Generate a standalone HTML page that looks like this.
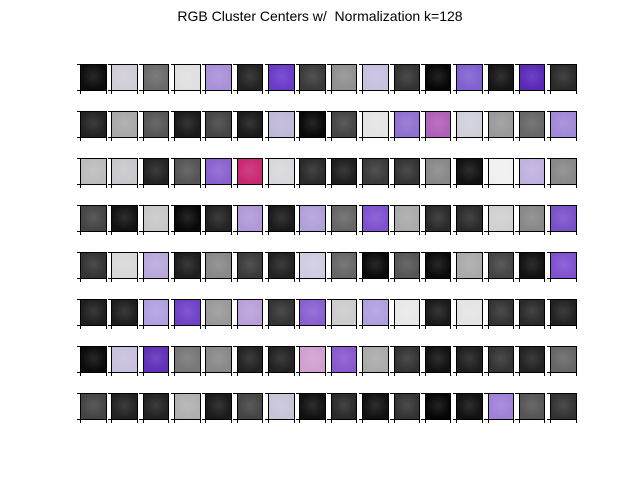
<!DOCTYPE html>
<html><head><meta charset="utf-8"><style>
body{margin:0;background:#fff;}
#c{position:relative;width:640px;height:480px;background:#fff;font-family:"Liberation Sans",sans-serif;overflow:hidden;}
#title{position:absolute;left:0;width:640px;top:8px;text-align:center;font-size:14px;color:#000;white-space:pre;}
.tile{position:absolute;box-sizing:border-box;border:1px solid #000;}
.tk{position:absolute;background:#000;}
</style></head><body>
<div id="c">
<div id="title">RGB Cluster Centers w/  Normalization k=128</div>
</div>
<script>
const rows=[
["#0c0c0c","#d0cdd8","#6a6a6a","#e0e0e0","#a890d8","#222222","#6a3ac8","#3a3a3a","#909090","#c8c0e0","#333333","#050505","#8060d0","#151515","#5a28b8","#2a2a2a"],
["#222222","#a8a8a8","#555555","#1a1a1a","#444444","#1a1a1a","#c0b8d8","#080808","#444444","#e4e4e4","#9070d0","#b060b8","#d0d0dc","#999999","#666666","#a088d8"],
["#bcbcbc","#c8c8cc","#222222","#555555","#8a60d0","#c82870","#d8d8dc","#2a2a2a","#1e1e1e","#3a3a3a","#333333","#888888","#111111","#f0f0f0","#c0b0e0","#888888"],
["#444444","#111111","#c8c8c8","#080808","#222222","#b098d8","#1a1a1a","#b0a0d8","#666666","#8050d0","#aaaaaa","#2a2a2a","#2a2a2a","#d0d0d0","#888888","#7a50c8"],
["#333333","#d8d8d8","#b8a8dc","#1e1e1e","#888888","#3a3a3a","#222222","#d0cce0","#666666","#0a0a0a","#555555","#0a0a0a","#aaaaaa","#444444","#111111","#8050d0"],
["#1e1e1e","#1e1e1e","#b0a0e0","#7040c8","#999999","#b8a0d8","#333333","#8860d0","#cccccc","#b0a0e0","#e8e8e8","#1a1a1a","#e4e4e4","#333333","#2a2a2a","#222222"],
["#0a0a0a","#c8c0dc","#6030b8","#777777","#888888","#222222","#222222","#d0a0d0","#8858d0","#aaaaaa","#333333","#111111","#1e1e1e","#333333","#222222","#666666"],
["#444444","#222222","#222222","#b0b0b0","#1a1a1a","#444444","#c8c4d8","#111111","#2a2a2a","#111111","#333333","#050505","#111111","#a080d8","#555555","#333333"]
];
const c=document.getElementById('c');
const x0=80,dx=31.35,w=26.5,y0=64,dy=47,h=26.5;
function tk(x,y,ww,hh){const t=document.createElement('div');t.className='tk';


t.style.left=x+'px';t.style.top=y+'px';t.style.width=ww+'px';t.style.height=hh+'px';c.appendChild(t);}
rows.forEach((r,ri)=>{r.forEach((col,ci)=>{
const x=x0+ci*dx,y=y0+ri*dy;
const d=document.createElement('div');d.className='tile';


d.style.left=x+'px';d.style.top=y+'px';d.style.width=w+'px';d.style.height=h+'px';
d.style.background='radial-gradient(circle at 50% 45%, rgba(255,255,255,0.12), rgba(0,0,0,0) 70%), '+col;
c.appendChild(d);
tk(x-3.5,y,3.5,1);tk(x-3.5,y+h-1,3.5,1);
tk(x,y+h,1,3.5);tk(x+w-1,y+h,1,3.5);
});});
</script>
</body></html>
